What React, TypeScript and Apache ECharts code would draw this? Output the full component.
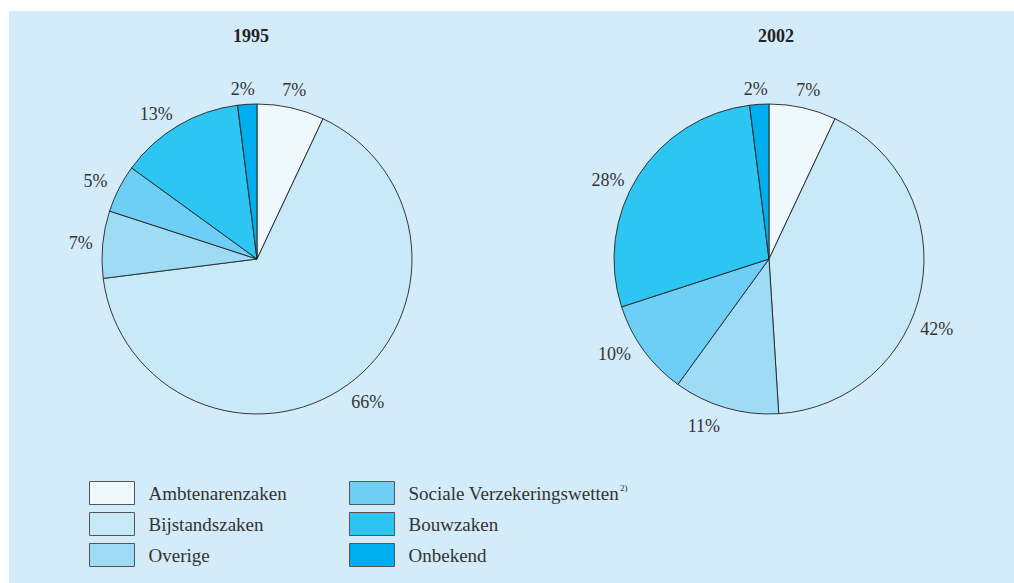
import React, { useEffect, useRef } from "react";
import * as echarts from "echarts";

const categories = [
  "Ambtenarenzaken",
  "Bijstandszaken",
  "Overige",
  "Sociale Verzekeringswetten",
  "Bouwzaken",
  "Onbekend",
];
const colors = ["#eef8fd", "#c8e9f8", "#9edcf6", "#6dcff5", "#2dc5f2", "#00aeef"];
const years = ["1995", "2002"];
const values1995 = [7, 66, 7, 5, 13, 2];
const values2002 = [7, 42, 11, 10, 28, 2];
const valuesByYear = [values1995, values2002];
const centersX = [257, 769];
const legendCol1 = categories.slice(0, 3);
const legendCol2 = categories.slice(3);

// hand-placement nudges of the percentage labels (styling only)
const labelNudges = [
  [[-2, 7], [5, -3], [3, 1], [-1, 4], [-9, 10], [-3, 10]],
  [[0, 7], [-9, 36], [-15, -6], [-9, -11], [-9, 17], [-2, 10]],
];

const SERIF = "'Liberation Serif', 'DejaVu Serif', serif";

export default function App() {
  const ref = useRef<HTMLDivElement>(null);
  useEffect(() => {
    if (!ref.current) return;
    const chart = echarts.init(ref.current, null, { renderer: "svg" });
    const series: any[] = [];
    valuesByYear.forEach((vals, yi) => {
      const data = categories.map((c, i) => ({
        name: c,
        value: vals[i],
        itemStyle: { color: colors[i] },
      }));
      series.push({
        type: "pie",
        center: [centersX[yi], 259],
        radius: [0, 155],
        startAngle: 90,
        clockwise: true,
        silent: true,
        label: { show: false },
        labelLine: { show: false },
        itemStyle: { borderColor: "#222", borderWidth: 0.9 },
        emphasis: { disabled: true },
        data,
      });
      series.push({
        type: "pie",
        center: [centersX[yi], 259],
        radius: [170, 184],
        startAngle: 90,
        clockwise: true,
        silent: true,
        legendHoverLink: false,
        itemStyle: { color: "rgba(0,0,0,0)", borderWidth: 0 },
        label: {
          show: true,
          position: "inside",
          formatter: "{c}%",
          color: "#333",
          fontFamily: SERIF,
          fontSize: 18,
        },
        labelLine: { show: false },
        emphasis: { disabled: true },
        data: categories.map((c, i) => ({
          name: c,
          value: vals[i],
          label: { offset: labelNudges[yi][i] },
        })),
      });
    });

    const legendBase = {
      orient: "vertical",
      top: 476,
      itemWidth: 45,
      itemHeight: 23,
      itemGap: 7,
      icon: "rect",
      selectedMode: false,
      itemStyle: { borderColor: "#555", borderWidth: 1 },
      textStyle: {
        fontFamily: SERIF,
        fontSize: 19,
        color: "#333",
        padding: [0, 0, 0, 9],
        rich: {
          a: { fontFamily: SERIF, fontSize: 19, color: "#333" },
          s: { fontFamily: SERIF, fontSize: 9, color: "#333", verticalAlign: "bottom", padding: [0, 0, 11, 1] },
        },
      },
      formatter: (name: string) =>
        name === "Sociale Verzekeringswetten" ? "{a|" + name + "}{s|2)}" : name,
    };

    chart.setOption({
      animation: false,
      backgroundColor: "#ffffff",
      graphic: [
        {
          type: "rect",
          z: -10,
          shape: { x: 9, y: 11, width: 1005, height: 572 },
          style: { fill: "#d4ecf9" },
          silent: true,
        },
        ...years.map((y, i) => ({
          type: "text",
          x: i === 0 ? 251 : 776,
          y: 36,
          style: {
            text: y,
            fill: "#222",
            font: "bold 18px " + SERIF,
            textAlign: "center",
            textVerticalAlign: "middle",
          },
        })),
      ],
      legend: [
        { ...legendBase, left: 84, data: legendCol1 },
        { ...legendBase, left: 344, data: legendCol2 },
      ],
      series,
    });
    return () => chart.dispose();
  }, []);
  return (
    <div
      ref={ref}
      style={{ position: "fixed", left: 0, top: 0, width: 1014, height: 583 }}
    />
  );
}
